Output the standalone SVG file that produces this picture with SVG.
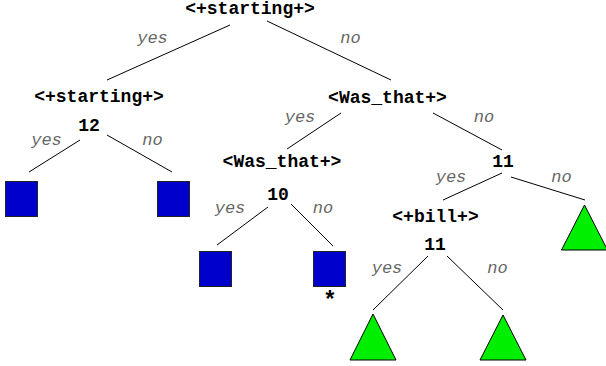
<svg xmlns="http://www.w3.org/2000/svg" width="606" height="366" viewBox="0 0 606 366">
<style>
.n{font-family:"Liberation Mono","Courier New",monospace;font-weight:bold;font-size:18px;fill:#000;text-anchor:middle}
.e{font-family:"Liberation Mono","Courier New",monospace;font-style:italic;font-size:17px;fill:#666;text-anchor:middle}
.c line{stroke:#000;stroke-width:1}
.sq{fill:#0000cc;stroke:#222;stroke-width:1}
.tr{fill:#00ee00;stroke:#000;stroke-width:1}
</style>
<rect width="606" height="366" fill="#fff"/>
<g id="connectors" class="c">
<line x1="230" y1="25" x2="107" y2="80"/>
<line x1="267" y1="21" x2="391" y2="80"/>
<line x1="80" y1="140" x2="29" y2="172"/>
<line x1="107" y1="135" x2="172" y2="172"/>
<line x1="341" y1="113" x2="287" y2="149"/>
<line x1="433" y1="113" x2="502" y2="150"/>
<line x1="268" y1="207" x2="217" y2="245"/>
<line x1="291" y1="204" x2="333" y2="246"/>
<line x1="502" y1="173" x2="443" y2="200"/>
<line x1="511" y1="177" x2="585" y2="200"/>
<line x1="428" y1="256" x2="373" y2="310"/>
<line x1="447" y1="256" x2="503" y2="310"/>
</g>
<g id="edge-labels">
<text class="e" x="152.5" y="43">yes</text>
<text class="e" x="350.5" y="43">no</text>
<text class="e" x="46.5" y="145">yes</text>
<text class="e" x="152.5" y="145">no</text>
<text class="e" x="300" y="122">yes</text>
<text class="e" x="484" y="122">no</text>
<text class="e" x="230" y="213">yes</text>
<text class="e" x="323" y="213">no</text>
<text class="e" x="451" y="182">yes</text>
<text class="e" x="561.5" y="182">no</text>
<text class="e" x="387" y="273">yes</text>
<text class="e" x="497.5" y="273">no</text>
</g>
<g id="node-root"><text class="n" x="250" y="14">&lt;+starting+&gt;</text></g>
<g id="node-starting2"><text class="n" x="99" y="102">&lt;+starting+&gt;</text><text class="n" x="89" y="131">12</text></g>
<g id="node-wasthat1"><text class="n" x="387.5" y="103">&lt;Was_that+&gt;</text></g>
<g id="node-wasthat2"><text class="n" x="282" y="167">&lt;Was_that+&gt;</text><text class="n" x="278" y="200">10</text></g>
<g id="node-11"><text class="n" x="503" y="167">11</text></g>
<g id="node-bill"><text class="n" x="435.5" y="222">&lt;+bill+&gt;</text><text class="n" x="435" y="250">11</text></g>
<g id="leaf-1"><rect class="sq" x="5.5" y="181.5" width="32" height="35"/></g>
<g id="leaf-2"><rect class="sq" x="157.5" y="181.5" width="32" height="35"/></g>
<g id="leaf-3"><rect class="sq" x="199.5" y="251.5" width="32" height="35"/></g>
<g id="leaf-4"><rect class="sq" x="313.5" y="251.5" width="32" height="35"/><text class="n" x="330" y="308" style="font-size:23px">*</text></g>
<g id="leaf-5"><polygon class="tr" points="373,314 350,360 396,360"/></g>
<g id="leaf-6"><polygon class="tr" points="503,315 480,360 526,360"/></g>
<g id="leaf-7"><polygon class="tr" points="584.5,205 561.5,250 607.5,250"/></g>
</svg>
